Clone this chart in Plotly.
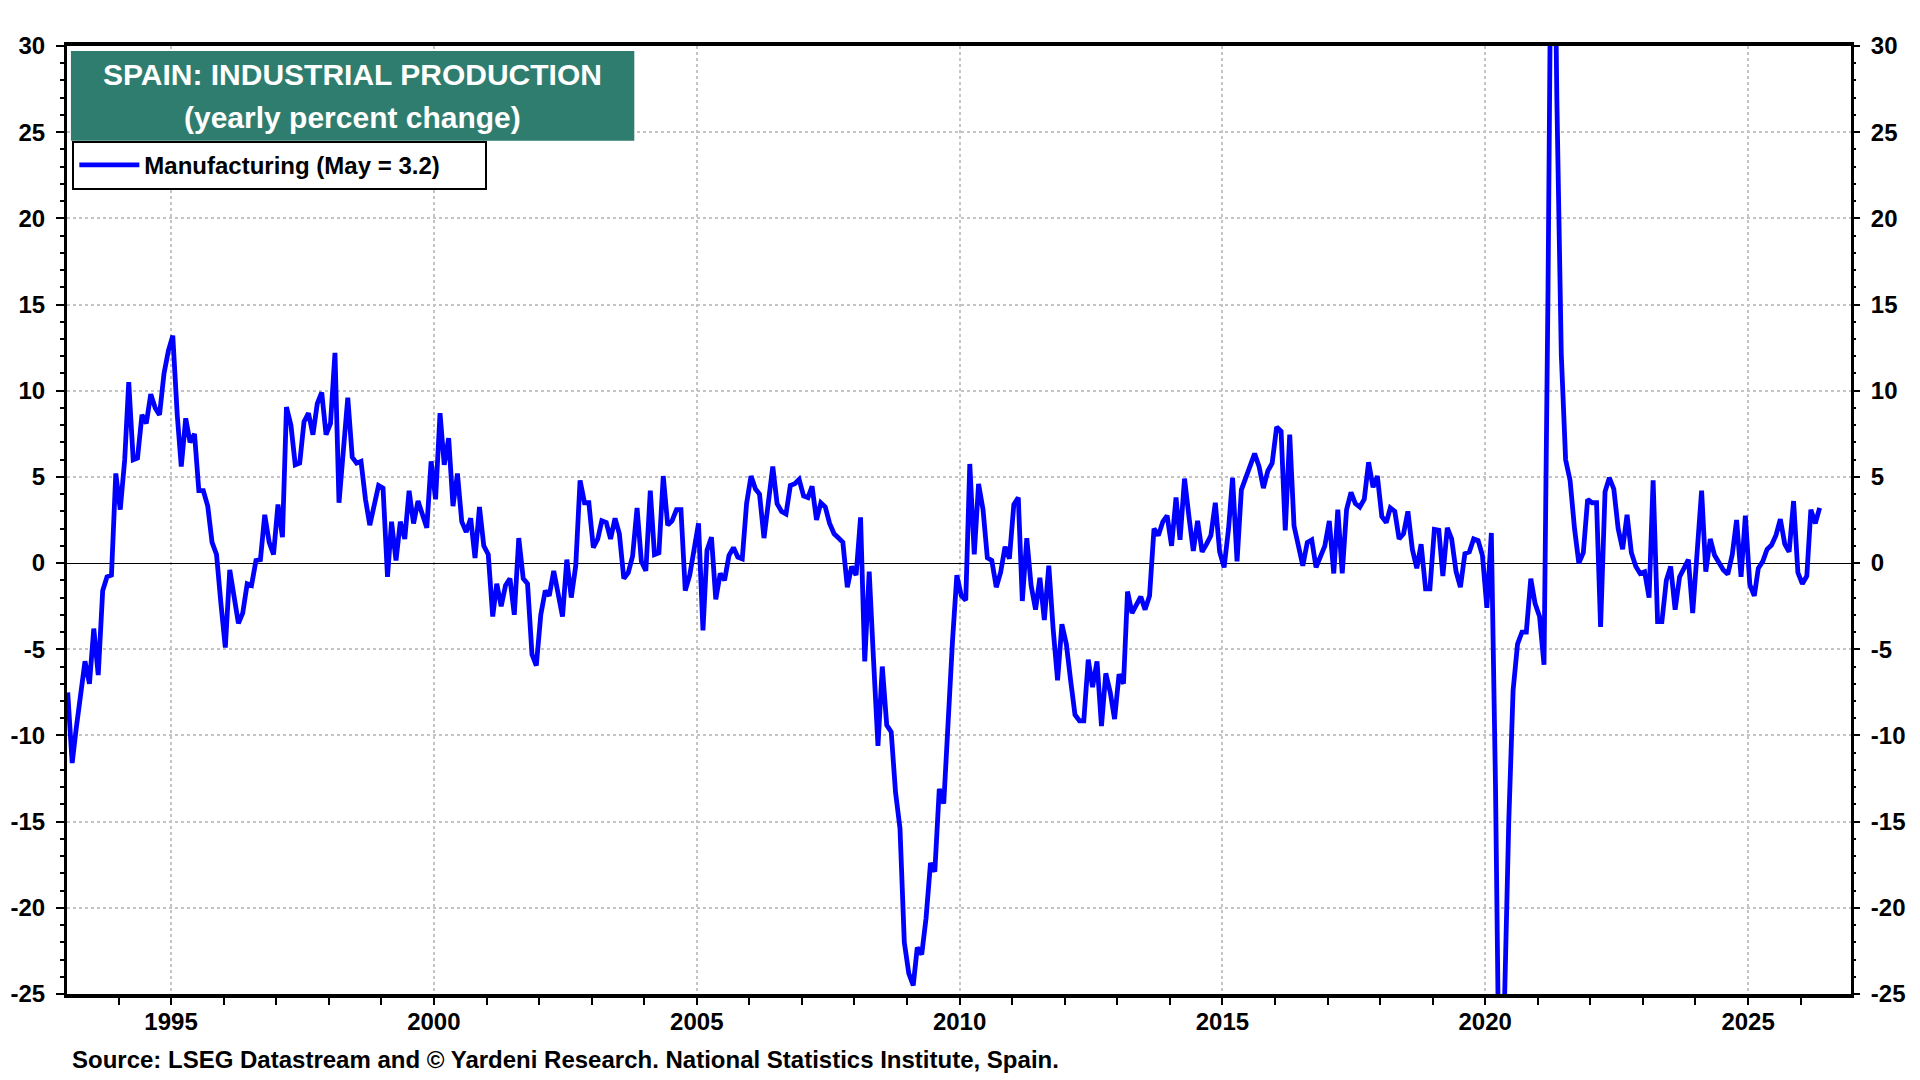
import pandas as pd
import plotly.graph_objects as go

# yearly percent change of Spain manufacturing production, monthly, Jan 1993 .. May 2026
mfg_1993_1999 = [
    -7.5, -11.6, -9.6, -7.7, -5.7, -7.0, -3.8, -6.5, -1.6, -0.8, -0.7, 5.2,        # 1993
    3.1, 6.0, 10.5, 6.0, 6.1, 8.6, 8.1, 9.8, 9.0, 8.6, 11.0, 12.3,                 # 1994
    13.2, 8.6, 5.6, 8.4, 7.0, 7.5, 4.2, 4.2, 3.3, 1.2, 0.5, -2.3,                  # 1995
    -4.9, -0.4, -2.0, -3.5, -2.9, -1.2, -1.3, 0.15, 0.2, 2.8, 1.2, 0.5,            # 1996
    3.4, 1.5, 9.05, 8.0, 5.7, 5.8, 8.2, 8.7, 7.45, 9.25, 9.9, 7.45,                # 1997
    8.1, 12.2, 3.5, 6.9, 9.6, 6.15, 5.8, 5.9, 3.7, 2.2, 3.3, 4.5,                  # 1998
    4.35, -0.8, 2.4, 0.15, 2.4, 1.4, 4.2, 2.3, 3.6, 2.9, 2.05, 5.9,                # 1999
]
mfg_2000_2009 = [
    3.7, 8.7, 5.7, 7.25, 3.3, 5.2, 2.4, 1.8, 2.6, 0.3, 3.25, 1.0,                  # 2000
    0.5, -3.1, -1.2, -2.5, -1.3, -0.9, -3.0, 1.45, -0.9, -1.2, -5.3, -5.95,        # 2001
    -3.0, -1.6, -1.9, -0.45, -1.9, -3.1, 0.2, -2.0, -0.15, 4.8, 3.5, 3.5,          # 2002
    0.9, 1.4, 2.45, 2.35, 1.4, 2.6, 1.7, -0.9, -0.55, 0.4, 3.2, 0.1,               # 2003
    -0.45, 4.2, 0.5, 0.6, 5.05, 2.2, 2.45, 3.1, 3.1, -1.6, -0.7, 0.8,              # 2004
    2.3, -3.9, 0.75, 1.5, -2.1, -0.6, -1.0, 0.45, 0.9, 0.35, 0.25, 3.45,           # 2005
    5.05, 4.3, 4.0, 1.45, 3.5, 5.6, 3.45, 3.0, 2.85, 4.5, 4.6, 4.85,               # 2006
    3.9, 3.8, 4.45, 2.5, 3.5, 3.25, 2.3, 1.7, 1.45, 1.2, -1.4, -0.2,               # 2007
    -0.7, 2.65, -5.7, -0.5, -5.6, -10.6, -6.0, -9.4, -9.8, -13.3, -15.4, -22.0,    # 2008
    -23.8, -24.5, -22.3, -22.7, -20.6, -17.4, -17.9, -13.1, -13.95, -9.0, -4.5, -0.7,  # 2009
]
mfg_2010_2019 = [
    -1.9, -2.15, 5.75, 0.5, 4.6, 3.1, 0.3, 0.15, -1.4, -0.55, 0.95, 0.25,          # 2010
    3.4, 3.8, -2.2, 1.45, -1.3, -2.7, -0.85, -3.3, -0.15, -3.8, -6.8, -3.55,       # 2011
    -4.7, -6.9, -8.8, -9.15, -9.15, -5.6, -7.2, -5.7, -9.45, -6.4, -7.5, -9.05,    # 2012
    -6.45, -7.0, -1.65, -2.9, -2.45, -1.95, -2.7, -1.9, 2.0, 1.6, 2.4, 2.75,       # 2013
    1.0, 3.8, 1.35, 4.9, 2.75, 0.7, 2.45, 0.65, 1.1, 1.6, 3.5, 0.65,               # 2014
    -0.25, 2.0, 4.95, 0.1, 4.25, 4.95, 5.6, 6.35, 5.6, 4.35, 5.35, 5.8,            # 2015
    7.9, 7.65, 1.9, 7.45, 2.15, 1.0, -0.15, 1.2, 1.35, -0.25, 0.45, 1.0,           # 2016
    2.45, -0.6, 3.1, -0.6, 3.1, 4.1, 3.45, 3.25, 3.7, 5.85, 4.4, 5.05,             # 2017
    2.7, 2.35, 3.2, 3.0, 1.4, 1.7, 3.0, 0.8, -0.3, 1.1, -1.5, -1.5,                # 2018
    1.95, 1.9, -0.75, 2.05, 1.4, -0.5, -1.4, 0.55, 0.65, 1.4, 1.3, 0.45,           # 2019
]
mfg_2020_2026 = [
    -2.6, 1.75, -13.0, -35.0, -26.0, -15.0, -7.4, -4.7, -4.0, -4.0, -0.9, -2.35,   # 2020
    -3.1, -5.9, 16.0, 48.0, 27.0, 12.1, 6.0, 4.8, 2.0, 0.0, 0.6, 3.7,              # 2021
    3.5, 3.5, -3.7, 4.15, 4.95, 4.3, 2.0, 0.8, 2.8, 0.6, -0.2, -0.6,               # 2022
    -0.5, -2.0, 4.8, -3.4, -3.4, -1.0, -0.2, -2.7, -0.8, -0.3, 0.2, -2.9,          # 2023
    0.6, 4.2, -0.5, 1.4, 0.45, -0.05, -0.4, -0.65, 0.5, 2.5, -0.8, 2.75,           # 2024
    -1.25, -1.9, -0.3, 0.1, 0.8, 1.05, 1.6, 2.55, 1.1, 0.65, 3.6, -0.55,           # 2025
    -1.2, -0.75, 3.1, 2.3, 3.2,                                                    # 2026
]

y_ticks = [-25, -20, -15, -10, -5, 0, 5, 10, 15, 20, 25, 30]
y_labels = [str(v) for v in y_ticks]                                            # plain hyphen, not the unicode minus

values = mfg_1993_1999 + mfg_2000_2009 + mfg_2010_2019 + mfg_2020_2026
dates = pd.date_range("1993-01-01", periods=len(values), freq="MS") + pd.Timedelta(days=12)

FONT = "Liberation Sans Narrow, Arial Narrow, Liberation Sans, Arial"
GRID = "#c4c4c4"

traces = []
traces.append(go.Scatter(                                                       # main series
    x=dates, y=values,
    mode="lines",
    name="Manufacturing (May = %.1f)" % values[-1] + "\u00a0" * 6,
    line=dict(color="#0000ff", width=4.8),
    yaxis="y"))
traces.append(go.Scatter(                                                       # invisible copy to carry the right axis
    x=dates, y=values,
    mode="lines",
    line=dict(color="rgba(0,0,0,0)", width=1),
    showlegend=False, hoverinfo="skip",
    yaxis="y2"))

tick_font = dict(family=FONT, size=24, color="black", weight="bold")

yaxis_common = dict(
    range=[-25, 30],
    tickvals=y_ticks, ticktext=y_labels,
    ticks="outside", ticklen=8, tickwidth=2, tickcolor="black",
    tickfont=tick_font,
    ticklabelstandoff=6,
    minor=dict(dtick=1, ticks="outside", ticklen=4, tickwidth=1.5, tickcolor="black"),
    automargin=False,
)

layout = go.Layout(
    width=1920, height=1080,
    margin=dict(l=67, r=69, t=46, b=86),
    paper_bgcolor="white", plot_bgcolor="white",
    showlegend=True,
    xaxis=dict(
        type="date",
        range=["1993-01-08", "2026-12-17"],
        tick0="1995-01-01", dtick="M60", tickformat="%Y",
        ticks="outside", ticklen=7, tickwidth=2, tickcolor="black",
        tickfont=tick_font, ticklabelstandoff=-4,
        minor=dict(dtick="M12", ticks="outside", ticklen=7, tickwidth=1.5, tickcolor="black"),
        showgrid=True, gridcolor=GRID, gridwidth=2, griddash="dot",
        showline=True, linecolor="black", linewidth=4, mirror=True,
        zeroline=False, automargin=False,
    ),
    yaxis=dict(
        **yaxis_common,
        side="left",
        showgrid=True, gridcolor=GRID, gridwidth=2, griddash="dot",
        showline=True, linecolor="black", linewidth=3, mirror=True,
        zeroline=True, zerolinecolor="black", zerolinewidth=1,
    ),
    yaxis2=dict(
        **yaxis_common,
        side="right", overlaying="y", matches="y",
        showgrid=False, zeroline=False, showline=False,
    ),
    legend=dict(
        x=0.003, y=0.9, xanchor="left", yanchor="top",
        bgcolor="white", bordercolor="black", borderwidth=2,
        font=dict(family=FONT, size=24, color="black", weight="bold"),
        itemwidth=60, tracegroupgap=0,
    ),
    shapes=[dict(                                                               # green title box
        type="rect", xref="paper", yref="paper",
        x0=0.0022, x1=0.318, y0=0.900, y1=0.9947,
        fillcolor="#2f7d6e", line=dict(width=0), layer="above",
    )],
    annotations=[
        dict(text="SPAIN: INDUSTRIAL PRODUCTION", xref="paper", yref="paper",
             x=0.160, y=0.970, xanchor="center", yanchor="middle", showarrow=False,
             font=dict(family=FONT, size=30, color="white", weight="bold")),
        dict(text="(yearly percent change)", xref="paper", yref="paper",
             x=0.160, y=0.925, xanchor="center", yanchor="middle", showarrow=False,
             font=dict(family=FONT, size=30, color="white", weight="bold")),
        dict(text="Source: LSEG Datastream and \u00a9 Yardeni Research. National Statistics Institute, Spain.",
             xref="paper", yref="paper", x=0.0017, y=-0.0696,
             xanchor="left", yanchor="middle", showarrow=False,
             font=dict(family=FONT, size=24, color="black", weight="bold")),
    ],
)

fig = go.Figure(data=traces, layout=layout)

fig.write_html("out.html", config={"displayModeBar": False},
               post_script="document.body.style.margin='0';")
